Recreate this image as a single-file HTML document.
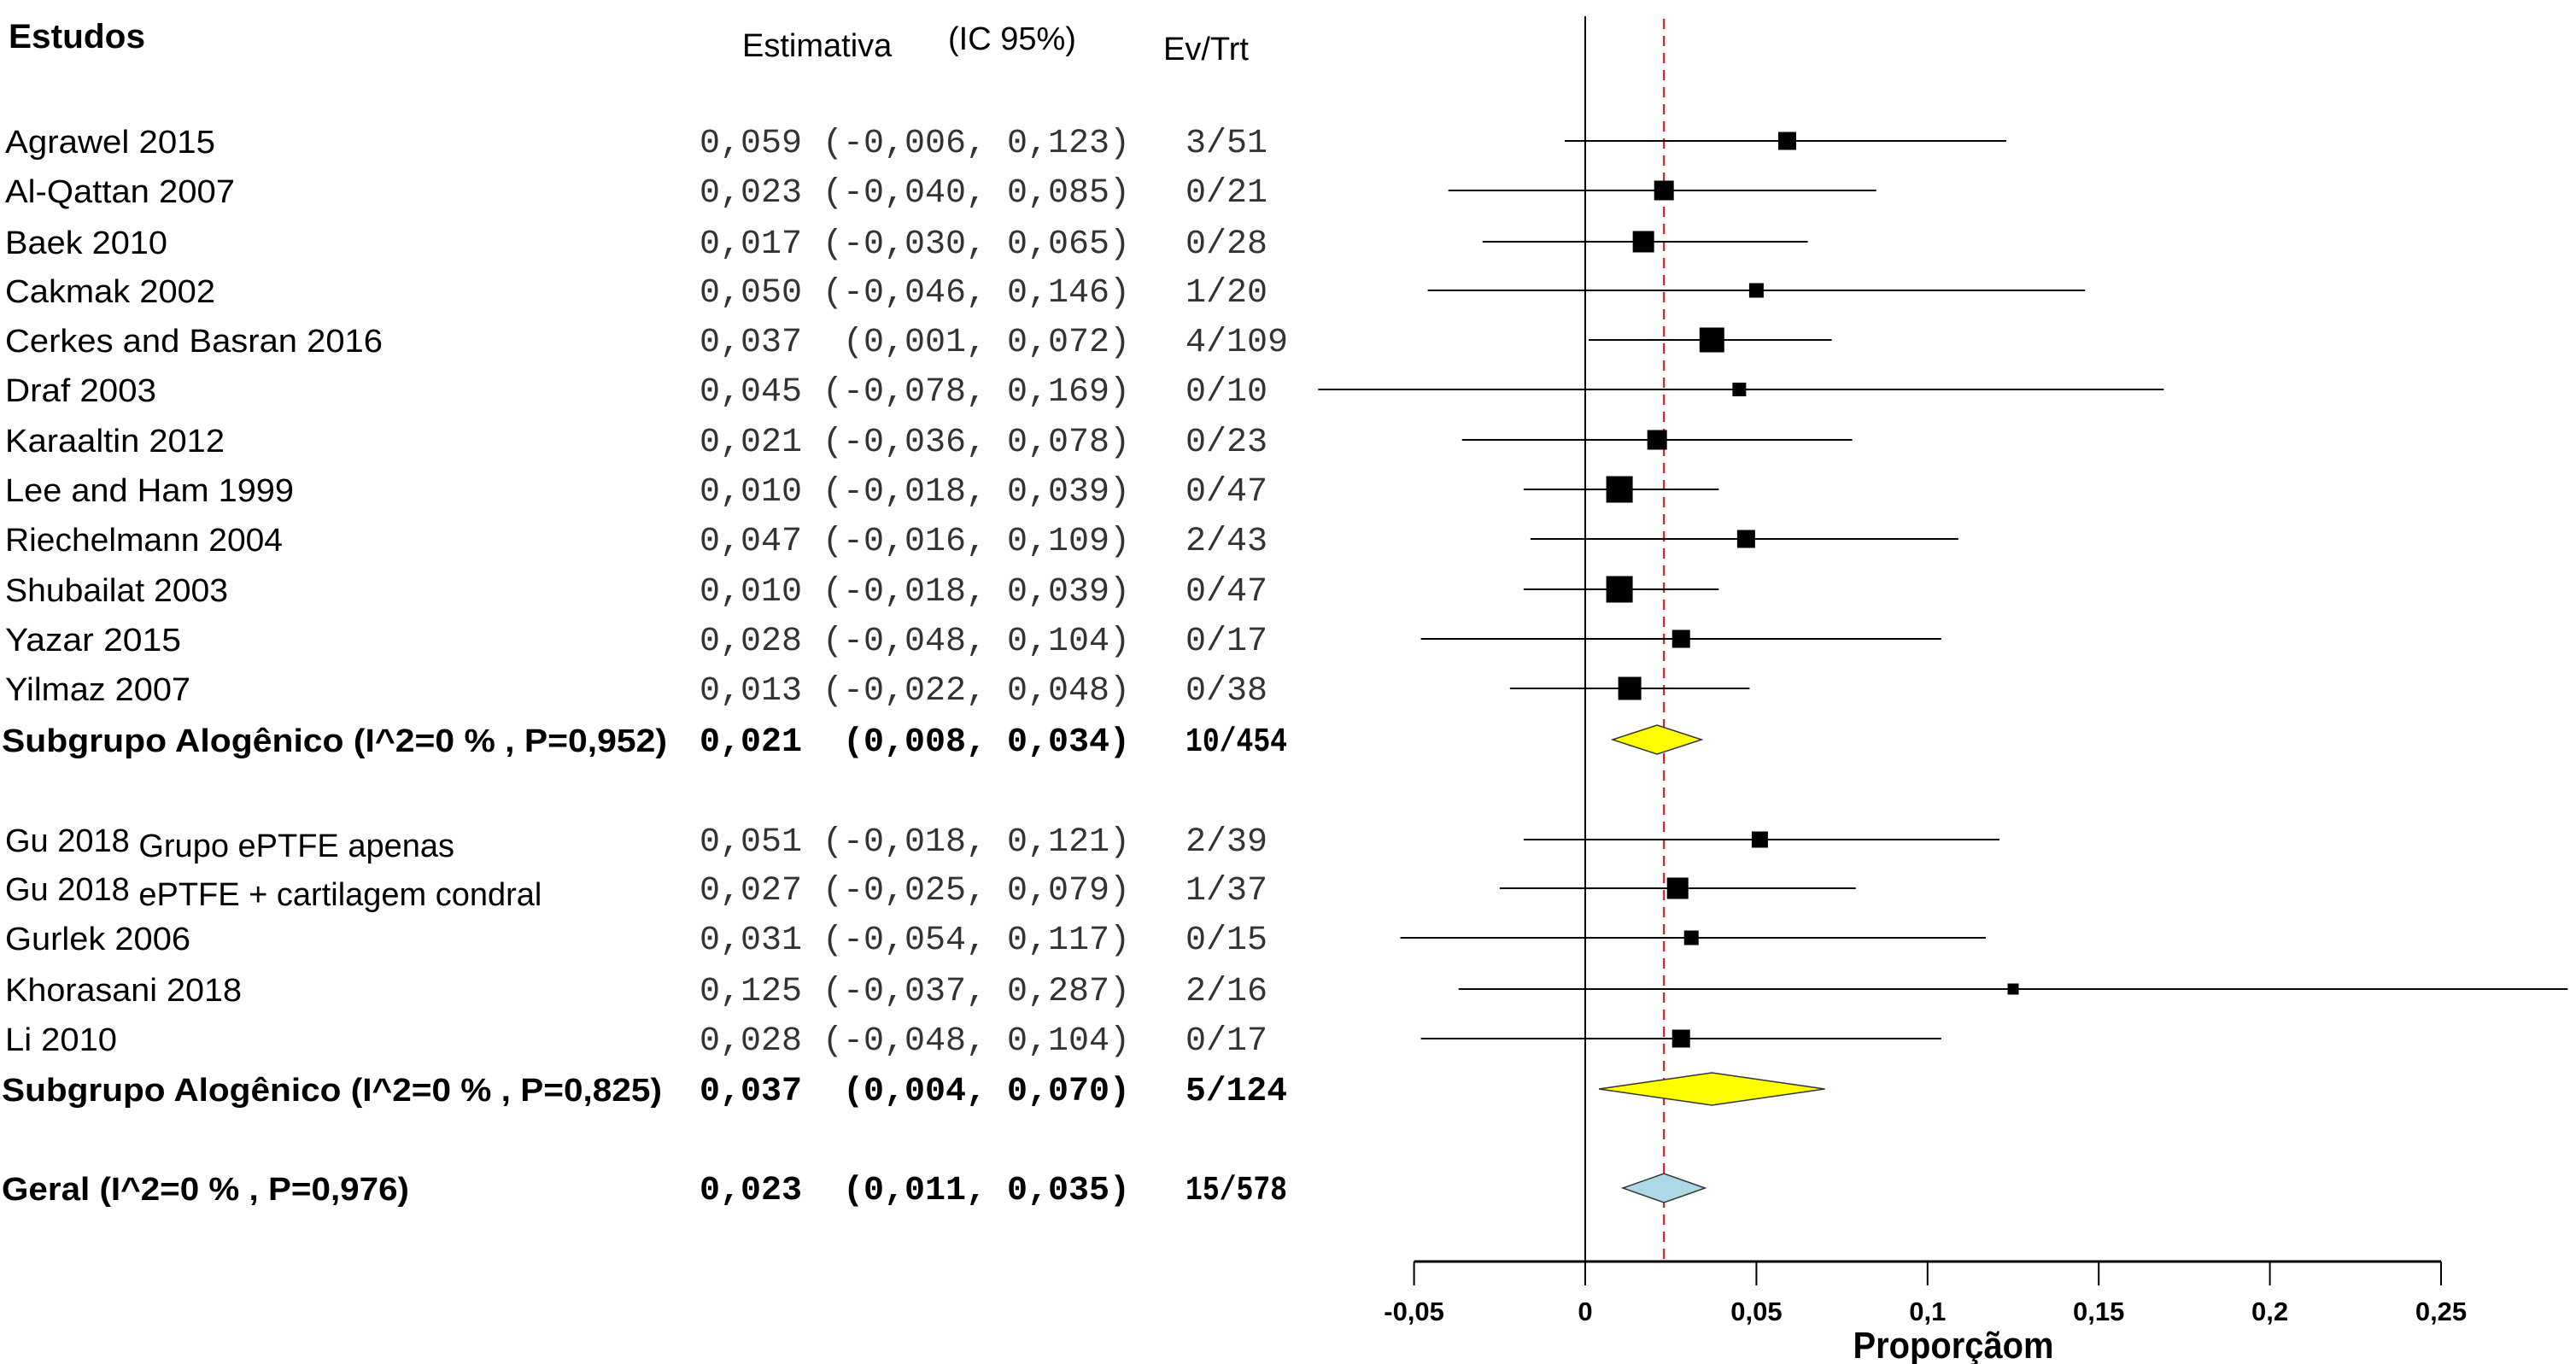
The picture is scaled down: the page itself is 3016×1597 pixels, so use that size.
<!DOCTYPE html>
<html><head><meta charset="utf-8"><style>
html,body{margin:0;padding:0;background:#fff;width:3016px;height:1597px;overflow:hidden}
svg{display:block}
.nm{font-family:"Liberation Sans",sans-serif;font-size:38px;fill:#000}
.mono{font-family:"Liberation Mono","DejaVu Sans Mono",monospace;font-size:40px;fill:#333}
.b{font-weight:bold;fill:#000}
</style></head><body>
<svg id="chart" width="3016" height="1597" xmlns="http://www.w3.org/2000/svg">
<text class="nm b" x="10" y="56" font-size="40" style="font-size:40px" textLength="160" lengthAdjust="spacingAndGlyphs">Estudos</text>
<text class="nm" x="869" y="66">Estimativa</text>
<text class="nm" x="1110" y="58">(IC 95%)</text>
<text class="nm" x="1362" y="70">Ev/Trt</text>
</svg>
<script>
const studies=["Agrawel 2015","Al-Qattan 2007","Baek 2010","Cakmak 2002","Cerkes and Basran 2016","Draf 2003","Karaaltin 2012","Lee and Ham 1999","Riechelmann 2004","Shubailat 2003","Yazar 2015","Yilmaz 2007","Gu 2018|Grupo ePTFE apenas","Gu 2018|ePTFE + cartilagem condral","Gurlek 2006","Khorasani 2018","Li 2010"];
const est=[0.059,0.023,0.017,0.050,0.037,0.045,0.021,0.010,0.047,0.010,0.028,0.013,0.051,0.027,0.031,0.125,0.028];
const lo=[-0.006,-0.040,-0.030,-0.046,0.001,-0.078,-0.036,-0.018,-0.016,-0.018,-0.048,-0.022,-0.018,-0.025,-0.054,-0.037,-0.048];
const hi=[0.123,0.085,0.065,0.146,0.072,0.169,0.078,0.039,0.109,0.039,0.104,0.048,0.121,0.079,0.117,0.287,0.104];
const evtrt=["3/51","0/21","0/28","1/20","4/109","0/10","0/23","0/47","2/43","0/47","0/17","0/38","2/39","1/37","0/15","2/16","0/17"];
const weights=[21,23,25,17,29,16,23,31,21,31,21,27,19,25,17,13,21];
const summaryLabels=["Subgrupo Alogênico  (I^2=0 % , P=0,952)","Subgrupo Alogênico  (I^2=0 % , P=0,825)","Geral (I^2=0 % , P=0,976)"];
const summaryEst=[0.021,0.037,0.023];
const summaryLo=[0.008,0.004,0.011];
const summaryHi=[0.034,0.070,0.035];
const summaryEv=["10/454","5/124","15/578"];
const summaryFill=["#ffff00","#ffff00","#add8e6"];
const xTicks=[-0.05,0,0.05,0.1,0.15,0.2,0.25];

// layout
const rowY=[165,223,283,340,398,456,515,573,631,690,748,806,983,1040,1098,1158,1216];
const sumY=[866,1275,1391];
const nameW=[246,269,190,246,442,177,257,338,325,261,206,217,0,0,217,277,131];
const sumW=[779,773,477];
const X0=1856, SC=4008;
const x=v=>X0+v*SC;
const svg=document.getElementById('chart');
const NS="http://www.w3.org/2000/svg";
function mk(t,a,txt){const e=document.createElementNS(NS,t);for(const k in a)e.setAttribute(k,a[k]);if(txt!==undefined)e.textContent=txt;svg.appendChild(e);return e;}
const fmt=v=>v.toFixed(3).replace('.',',');
function ci(l,h){return "("+fmt(l)+", "+fmt(h)+")";}

let e=mk('line',{x1:x(0),x2:x(0),y1:19,y2:1477,stroke:'#000','stroke-width':2});


e=mk('line',{x1:x(summaryEst[2]),x2:x(summaryEst[2]),y1:22,y2:1477,stroke:'#ff0000','stroke-width':2,'stroke-dasharray':'12,8'});



studies.forEach((s,i)=>{
  const y=rowY[i];
  const parts=s.split('|');
  let t;
  if(parts.length>1){
    t=mk('text',{class:'nm',x:6,y:y+14});
    const a=document.createElementNS(NS,'tspan');a.textContent=parts[0]+' ';t.appendChild(a);
    const b=document.createElementNS(NS,'tspan');b.textContent=parts[1];b.setAttribute('dy','6');t.appendChild(b);
  } else {
    t=mk('text',{class:'nm',x:6,y:y+14,textLength:nameW[i],lengthAdjust:'spacingAndGlyphs'},s);
  }
  
  
  t=mk('text',{class:'mono',x:819,y:y+13},fmt(est[i]));
  
  
  t=mk('text',{class:'mono',x:1323,y:y+13,'text-anchor':'end'},ci(lo[i],hi[i]));
  
  
  t=mk('text',{class:'mono',x:1388,y:y+13},evtrt[i]);
  
  
  const l=mk('line',{x1:x(lo[i]),x2:x(hi[i]),y1:y,y2:y,stroke:'#000','stroke-width':2});
  
  
  const w=weights[i];
  const r=mk('rect',{x:x(est[i])-w/2,y:y-w/2,width:w,height:w,fill:'#000'});
  
  
});

summaryLabels.forEach((s,i)=>{
  const y=sumY[i];
  let t=mk('text',{class:'nm b',x:2,y:y+14,textLength:sumW[i],lengthAdjust:'spacingAndGlyphs'},s);
  
  
  t=mk('text',{class:'mono b',x:819,y:y+13},fmt(summaryEst[i]));
  
  
  t=mk('text',{class:'mono b',x:1323,y:y+13,'text-anchor':'end'},ci(summaryLo[i],summaryHi[i]));
  
  
  t=mk('text',{class:'mono b',x:1388,y:y+13,textLength:119,lengthAdjust:'spacingAndGlyphs'},summaryEv[i]);
  
  
  const h=i==1?19:17;
  const p=mk('polygon',{points:`${x(summaryLo[i])},${y} ${x(summaryEst[i])},${y-h} ${x(summaryHi[i])},${y} ${x(summaryEst[i])},${y+h}`,fill:summaryFill[i],stroke:'#333','stroke-width':1.5});
  
  
});

e=mk('line',{x1:x(xTicks[0]),x2:x(xTicks[xTicks.length-1]),y1:1477,y2:1477,stroke:'#000','stroke-width':3});


xTicks.forEach(v=>{
  const tk=mk('line',{x1:x(v),x2:x(v),y1:1477,y2:1505,stroke:'#000','stroke-width':2});
  
  
  const lb=mk('text',{class:'nm',x:x(v),y:1546,'text-anchor':'middle'},String(v).replace('.',','));
  lb.style.fontSize='31px';
  lb.style.fontWeight='bold';
  
  
});
e=mk('text',{class:'nm b',x:2287,y:1590,'text-anchor':'middle',textLength:235,lengthAdjust:'spacingAndGlyphs'},'Proporçãom');
e.style.fontSize='44px';


</script>
</body></html>
